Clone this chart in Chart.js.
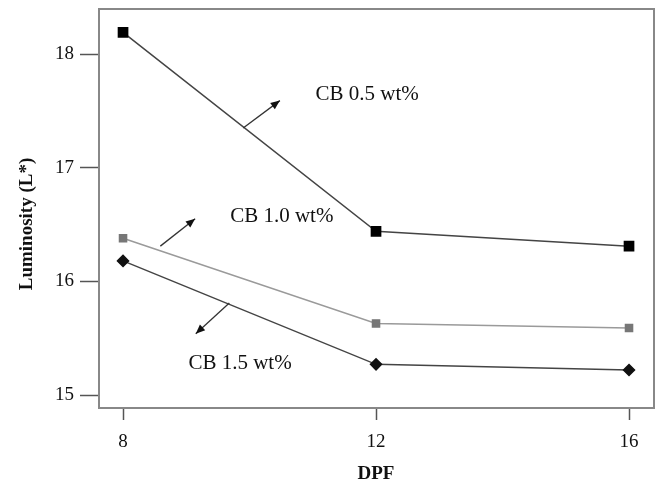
<!DOCTYPE html>
<html>
<head>
<meta charset="utf-8">
<script src="https://cdn.jsdelivr.net/npm/chart.js@4.4.1/dist/chart.umd.min.js"></script>
<style>
  html, body { margin: 0; padding: 0; background: #fff; }
  #wrap { width: 655px; height: 484px; }
</style>
</head>
<body>
<div id="wrap"><canvas id="chart" width="655" height="484"></canvas></div>
<script>
// DPF values on the x axis
const dpf = [8, 12, 16];

// Luminosity (L*) per carbon black loading
const cb05 = [18.19, 16.44, 16.31];
const cb10 = [16.38, 15.63, 15.59];
const cb15 = [16.18, 15.27, 15.22];

const yTicks = [15, 16, 17, 18];
const xTicks = [8, 12, 16];

// Series labels with their pointer arrows, in data units
const labelText = ['CB 0.5 wt%', 'CB 1.0 wt%', 'CB 1.5 wt%'];
const labelPos = [[11.86, 17.64], [10.51, 16.57], [9.85, 15.28]];
const arrowFrom = [[9.90, 17.35], [8.59, 16.31], [9.68, 15.81]];
const arrowTo = [[10.48, 17.59], [9.14, 16.55], [9.15, 15.54]];

const serif = '"Liberation Serif", "DejaVu Serif", serif';

// Draws the closed frame, the series labels, arrows and axis titles
const extras = {
  id: 'extras',
  afterDraw(chart) {
    const { ctx, chartArea: a, scales: { x, y } } = chart;
    ctx.save();
    ctx.strokeStyle = '#888';
    ctx.lineWidth = 2;
    ctx.strokeRect(a.left, a.top, a.right - a.left, a.bottom - a.top);

    ctx.strokeStyle = '#333';
    ctx.fillStyle = '#111';
    ctx.lineWidth = 1.3;
    arrowFrom.forEach((p, i) => {
      const x0 = x.getPixelForValue(p[0]), y0 = y.getPixelForValue(p[1]);
      const x1 = x.getPixelForValue(arrowTo[i][0]), y1 = y.getPixelForValue(arrowTo[i][1]);
      const ang = Math.atan2(y1 - y0, x1 - x0);
      ctx.beginPath();
      ctx.moveTo(x0, y0);
      ctx.lineTo(x1, y1);
      ctx.stroke();
      ctx.beginPath();
      ctx.moveTo(x1, y1);
      ctx.lineTo(x1 - 10 * Math.cos(ang - 0.4), y1 - 10 * Math.sin(ang - 0.4));
      ctx.lineTo(x1 - 10 * Math.cos(ang + 0.4), y1 - 10 * Math.sin(ang + 0.4));
      ctx.closePath();
      ctx.fill();
    });

    ctx.fillStyle = '#111';
    ctx.font = '21px ' + serif;
    ctx.textAlign = 'center';
    ctx.textBaseline = 'middle';
    labelText.forEach((t, i) => {
      ctx.fillText(t, x.getPixelForValue(labelPos[i][0]), y.getPixelForValue(labelPos[i][1]));
    });

    ctx.font = 'bold 19px ' + serif;
    ctx.fillText('DPF', 376, 474);
    ctx.translate(27, 224);
    ctx.rotate(-Math.PI / 2);
    ctx.fillText('Luminosity (L*)', 0, 0);
    ctx.restore();
  }
};

new Chart(document.getElementById('chart'), {
  type: 'line',
  plugins: [extras],
  data: {
    labels: dpf,
    datasets: [
      {
        data: dpf.map((d, i) => ({ x: d, y: cb05[i] })),
        borderColor: '#444', borderWidth: 1.5,
        pointStyle: 'rect', pointRadius: 6.5,
        pointBackgroundColor: '#000', pointBorderColor: '#000',
      },
      {
        data: dpf.map((d, i) => ({ x: d, y: cb10[i] })),
        borderColor: '#9a9a9a', borderWidth: 1.5,
        pointStyle: 'rect', pointRadius: 5,
        pointBackgroundColor: '#777', pointBorderColor: '#777',
      },
      {
        data: dpf.map((d, i) => ({ x: d, y: cb15[i] })),
        borderColor: '#444', borderWidth: 1.5,
        pointStyle: 'rectRot', pointRadius: 5.5,
        pointBackgroundColor: '#111', pointBorderColor: '#111',
      },
    ],
  },
  options: {
    responsive: false,
    animation: false,
    layout: { autoPadding: false, padding: { top: 9, right: 1, left: 0, bottom: 0 } },
    plugins: { legend: { display: false }, tooltip: { enabled: false } },
    scales: {
      x: {
        type: 'linear',
        min: 7.62, max: 16.395,
        afterFit: (s) => { s.height = 76; s.paddingLeft = 0; s.paddingRight = 0; },
        afterBuildTicks: (s) => { s.ticks = xTicks.map(v => ({ value: v })); },
        grid: { drawOnChartArea: false, tickLength: 12, tickColor: '#555', tickWidth: 1.5 },
        border: { color: '#888', width: 2 },
        ticks: { color: '#111', font: { family: serif, size: 19 }, padding: 11 },
      },
      y: {
        min: 14.886, max: 18.396,
        afterFit: (s) => { s.width = 99; s.paddingTop = 0; s.paddingBottom = 0; },
        afterBuildTicks: (s) => { s.ticks = yTicks.map(v => ({ value: v })); },
        grid: { drawOnChartArea: false, tickLength: 19, tickColor: '#555', tickWidth: 1.5 },
        border: { color: '#888', width: 2 },
        ticks: { color: '#111', font: { family: serif, size: 19 }, padding: 6 },
      },
    },
  },
});
</script>
</body>
</html>
